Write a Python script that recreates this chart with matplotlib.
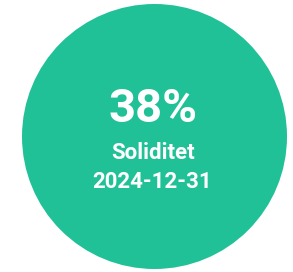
import matplotlib.pyplot as plt
from matplotlib.patches import Circle

# Data
value_pct = 38
metric_label = 'Soliditet'
report_date = '2024-12-31'

W, H = 293, 272
fig = plt.figure(figsize=(W / 100, H / 100), dpi=100)
ax = fig.add_axes([0, 0, 1, 1])
ax.set_xlim(0, W)
ax.set_ylim(H, 0)
ax.axis('off')

ax.add_patch(Circle((154.5, 136.5), 132.5, color='#21C198', lw=0))

ax.text(153, 122, f'{value_pct}%', ha='center', va='baseline', color='white',
        fontsize=34, fontweight='bold', family='Roboto')
ax.text(153, 159, metric_label, ha='center', va='baseline', color='white',
        fontsize=16, fontweight='bold', family='Roboto')
ax.text(152, 188, report_date, ha='center', va='baseline', color='white',
        fontsize=16, fontweight='bold', family='Roboto')

fig.savefig('out.png', dpi=100)
